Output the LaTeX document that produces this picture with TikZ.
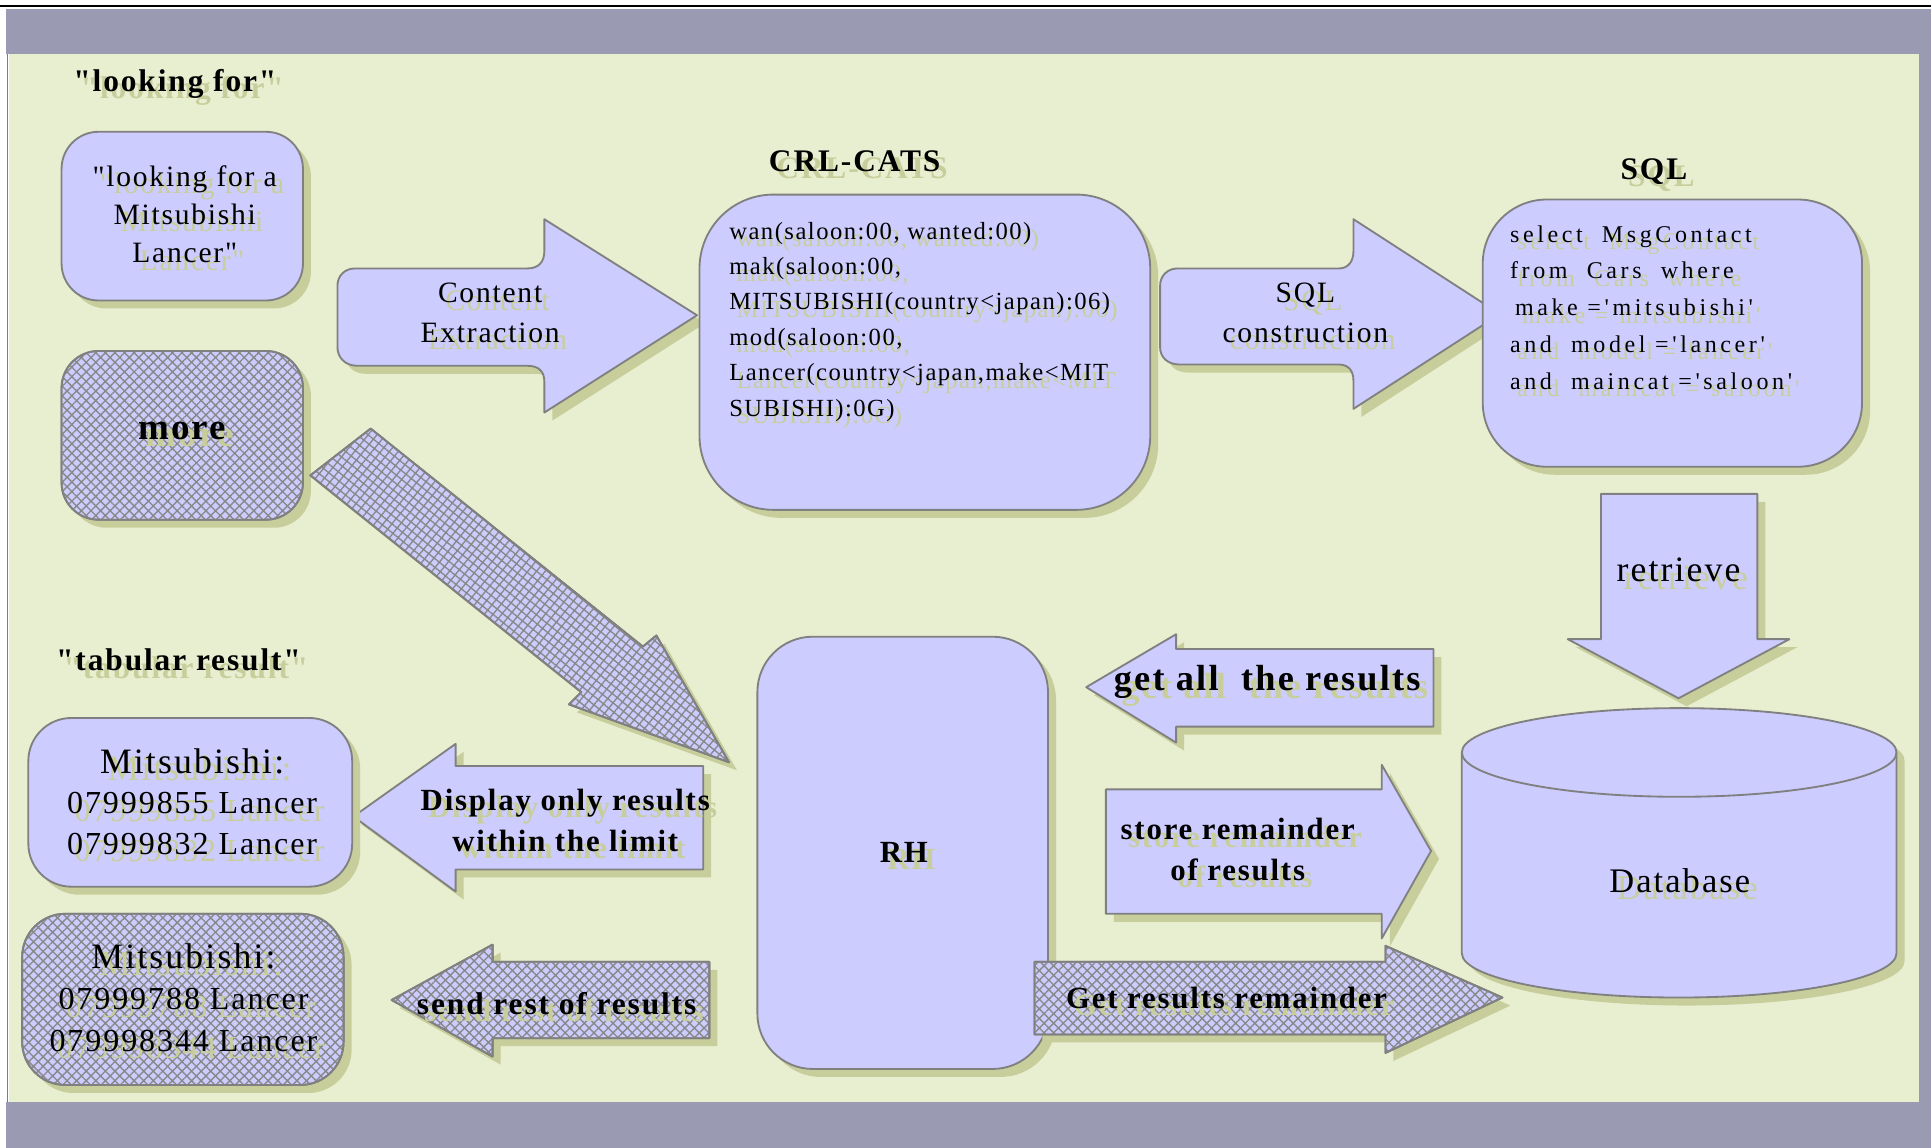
\documentclass[tikz,border=0pt]{standalone}
\usepackage{fontspec}
\setmainfont{Liberation Serif}[LetterSpace=6, Ligatures=TeXOff]
\newfontfamily\sqlfont{Liberation Serif}[LetterSpace=15, Ligatures=TeXOff]
\usetikzlibrary{patterns.meta}

\definecolor{bggreen}{RGB}{232,238,208}
\definecolor{band}{RGB}{154,154,178}
\definecolor{lav}{RGB}{204,204,255}
\definecolor{edge}{RGB}{128,128,128}
\definecolor{shcol}{RGB}{200,206,155}
\definecolor{hatchcol}{RGB}{136,136,136}

\newcommand\fsz[2]{\fontsize{#1}{#2}\selectfont}
% text with an offset olive shadow copy underneath
\newcommand\stext[4]{%
  \node[txt,#2,text=shcol,xshift=6pt,yshift=-6pt] (#1-sh) at (#3) {#4};
  \node[txt,#2] (#1) at (#3) {#4};}

\tikzset{
  plate/.style={draw=edge, line width=1.5pt, fill=lav, line join=round},
  shadowed/.style={preaction={draw=none, fill=shcol, transform canvas={shift={(6.5pt,-6.5pt)}}}},
  hatched/.style={postaction={pattern={Hatch[angle=#1,distance=5.5pt,line width=1.1pt]}, pattern color=hatchcol},
                  postaction={draw=edge, line width=1.5pt}},
  hatched/.default=45,
  txt/.style={inner sep=0pt, text=black},
}

\begin{document}
\begin{tikzpicture}[x=1pt,y=-1pt]
\useasboundingbox (0,0) rectangle (1568,932);

% page frame and bands
\fill[white] (0,0) rectangle (1568,932);
\fill[band] (5,7) rectangle (1568,44);
\draw[black, line width=1.6pt] (0,5) -- (1568,5);
\fill[bggreen] (7,44) rectangle (1558,895);
\fill[band] (1558,44) rectangle (1568,932);
\fill[band] (5,895) rectangle (1568,932);
\draw[band!80!black, line width=1.2pt] (6,44) -- (6,895);

% ---------- top row ----------
\stext{t-look}{font=\fsz{25.5}{30}\bfseries}{142,68}{"looking for"}

\node[plate, shadowed, rounded corners=30pt, minimum width=196pt, minimum height=137pt] (lookbox) at (148,175.5) {};
\stext{look}{font=\fsz{24}{31}, align=center}{150,174}{"looking for a\\Mitsubishi\\Lancer"}

\node[plate, shadowed, hatched, rounded corners=30pt, minimum width=196pt, minimum height=137pt] (morebox) at (148,353.5) {};
\stext{more}{font=\fsz{30}{36}\bfseries}{148,350}{more}

% content extraction arrow
\path[plate, shadowed] (288,218) -- (428,218) .. controls (438,218) and (442,212) .. (442,204) -- (442,178)
  -- (566,256) -- (442,335) -- (442,310) .. controls (442,302) and (438,297) .. (428,297) -- (290,297)
  .. controls (280,297) and (274,290) .. (274,282) -- (274,232) .. controls (274,224) and (280,218) .. (288,218) -- cycle;
\stext{ce}{font=\fsz{24}{32}, align=center}{398,254}{Content\\Extraction}

\stext{t-crl}{font=\fsz{25.5}{30}\bfseries}{694,131}{CRL-CATS}
\node[plate, shadowed, rounded corners=60pt, minimum width=366pt, minimum height=256pt] (crlbox) at (751,286) {};
\stext{crl}{font=\fsz{20}{28.8}, align=left, anchor=north west}{592,180}{wan(saloon:00, wanted:00)\\mak(saloon:00,\\MITSUBISHI(country<japan):06)\\mod(saloon:00,\\Lancer(country<japan,make<MIT\\SUBISHI):0G)}

% SQL construction arrow
\path[plate, shadowed] (956,218) -- (1087,218) .. controls (1095,218) and (1099,212) .. (1099,204) -- (1099,178)
  -- (1218,255) -- (1099,332) -- (1099,309) .. controls (1099,301) and (1095,296) .. (1087,296) -- (958,296)
  .. controls (948,296) and (942,290) .. (942,282) -- (942,232) .. controls (942,224) and (948,218) .. (956,218) -- cycle;
\stext{sc}{font=\fsz{24}{32}, align=center}{1060,254}{SQL\\construction}

\stext{t-sql}{font=\fsz{25.5}{30}\bfseries}{1343,139}{SQL}
\node[plate, shadowed, rounded corners=52pt, minimum width=308pt, minimum height=217pt] (sqlbox) at (1358,270.5) {};
\stext{sql}{font=\sqlfont\fsz{19.5}{29.8}, align=left, anchor=north west}{1226,183}{select~ MsgContact\\from~ Cars~ where\\\hspace*{4pt}make ='mitsubishi'\\and~ model ='lancer'\\and~ maincat ='saloon'}

% retrieve arrow
\path[plate, shadowed] (1300,401) -- (1427,401) -- (1427,519) -- (1453,519) -- (1363,567) -- (1273,519) -- (1300,519) -- cycle;
\stext{retr}{font=\fsz{29}{34}}{1363,463}{retrieve}

% database cylinder
\path[plate, shadowed] (1187,611) -- (1187,774) arc[start angle=180, end angle=0, x radius=176.5, y radius=36]
  -- (1540,611) arc[start angle=0, end angle=-180, x radius=176.5, y radius=36] -- cycle;
\draw[edge, line width=1.5pt] (1187,611) arc[start angle=180, end angle=0, x radius=176.5, y radius=36];
\stext{db}{font=\fsz{28}{32}}{1364,715}{Database}

% ---------- lower part ----------
% diagonal arrow from "more" to RH
\path[plate, shadowed, hatched=51] (301,348) -- (522,525) -- (533,516) -- (592,619) -- (462,572) -- (472,562) -- (252,386) -- cycle;

\stext{t-tab}{font=\fsz{25.5}{30}\bfseries}{145,536}{"tabular result"}

\node[plate, shadowed, rounded corners=45pt, minimum width=236pt, minimum height=351pt] (rh) at (733,692.5) {};
\stext{rhl}{font=\fsz{25}{30}\bfseries}{734,692}{RH}

% get all the results
\path[plate, shadowed] (1164,527) -- (1164,590) -- (955,590) -- (955,603) -- (882,558) -- (955,515) -- (955,527) -- cycle;
\stext{ga}{font=\fsz{29.5}{34}\bfseries}{1029,554}{get all~ the results}

% store remainder
\path[plate, shadowed] (898,641) -- (1122,641) -- (1122,621) -- (1162,691) -- (1122,762) -- (1122,742) -- (898,742) -- cycle;
\stext{st}{font=\fsz{25}{33}\bfseries, align=center}{1005,690}{store remainder\\of results}

% get results remainder
\path[plate, shadowed, hatched] (840,781) -- (1125,781) -- (1125,768) -- (1220,810) -- (1125,855) -- (1125,840) -- (840,840) -- cycle;
\stext{grr}{font=\fsz{25}{30}\bfseries}{996,810}{Get results remainder}

% display only results
\path[plate, shadowed] (571,622) -- (571,706) -- (370,706) -- (370,724) -- (287,663) -- (370,604) -- (370,622) -- cycle;
\stext{disp}{font=\fsz{25}{33}\bfseries, align=center}{459,666}{Display only results\\within the limit}

% send rest of results
\path[plate, shadowed, hatched] (576,781) -- (576,843) -- (400,843) -- (400,858) -- (318,812) -- (400,767) -- (400,781) -- cycle;
\stext{send}{font=\fsz{25.5}{30}\bfseries}{452,815}{send rest of results}

% result boxes
\node[plate, shadowed, rounded corners=35pt, minimum width=263pt, minimum height=137pt] (res1) at (154.5,651.5) {};
\stext{r1}{font=\fsz{26}{33}, align=center}{156,651}{{\fsz{29}{33}Mitsubishi:}\\07999855 Lancer\\07999832 Lancer}

\node[plate, shadowed, hatched, rounded corners=35pt, minimum width=261pt, minimum height=139pt] (res2) at (148.5,811.5) {};
\stext{r2}{font=\fsz{26}{33.5}, align=center}{149,810}{{\fsz{29}{33.5}Mitsubishi:}\\07999788 Lancer\\079998344 Lancer}

\end{tikzpicture}
\end{document}
